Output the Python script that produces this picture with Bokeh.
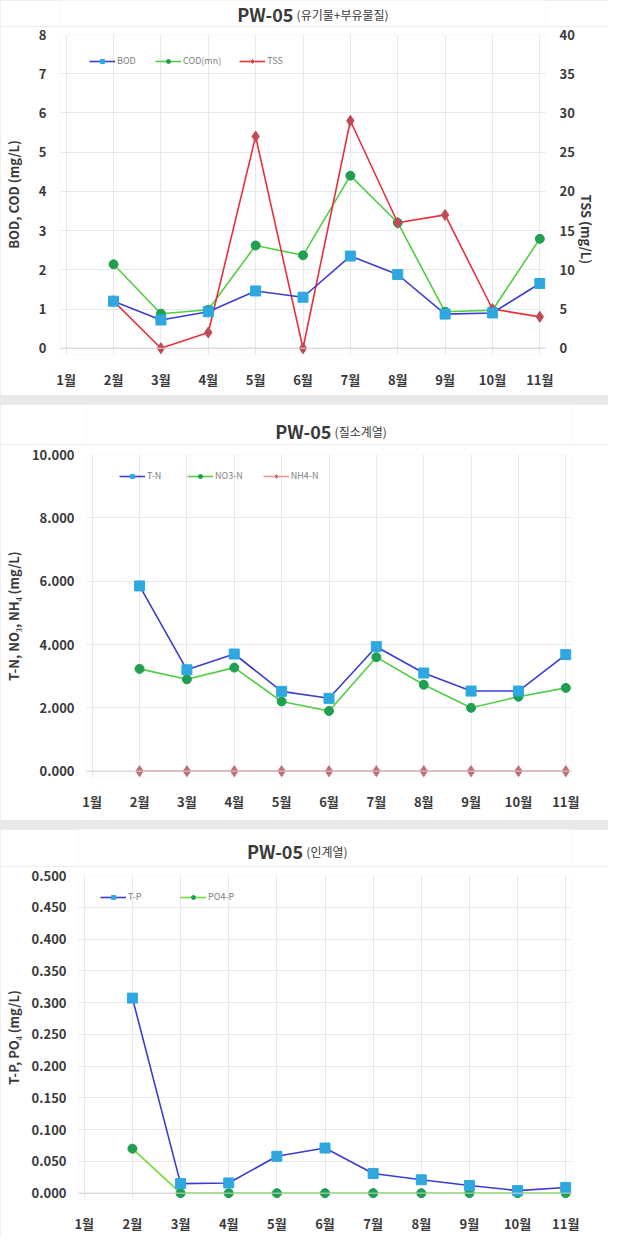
import math
from bokeh.plotting import figure
from bokeh.models import (Range1d, LinearAxis, FixedTicker, Legend, LegendItem,
                          Label, NumeralTickFormatter, Span)
from bokeh.layouts import column
from bokeh.embed import file_html
from bokeh.resources import INLINE

# ---------------- data ----------------
months = ["1월", "2월", "3월", "4월", "5월", "6월", "7월", "8월", "9월", "10월", "11월"]
data_months = ["2월", "3월", "4월", "5월", "6월", "7월", "8월", "9월", "10월", "11월"]

bod = [1.20, 0.72, 0.93, 1.46, 1.30, 2.35, 1.88, 0.87, 0.90, 1.65]
cod = [2.14, 0.88, 0.98, 2.62, 2.37, 4.40, 3.20, 0.93, 0.97, 2.79]
tss = [6, 0, 2, 27, 0, 29, 16, 17, 5, 4]

tn = [5.85, 3.20, 3.70, 2.52, 2.30, 3.93, 3.10, 2.53, 2.53, 3.68]
no3 = [3.23, 2.90, 3.27, 2.20, 1.90, 3.60, 2.73, 2.00, 2.35, 2.63]
nh4 = [0.0, 0.0, 0.0, 0.0, 0.0, 0.0, 0.0, 0.0, 0.0, 0.0]

tp = [0.307, 0.015, 0.016, 0.058, 0.071, 0.031, 0.021, 0.012, 0.004, 0.009]
po4 = [0.070, 0.0, 0.0, 0.0, 0.0, 0.0, 0.0, 0.0, 0.0, 0.0]

ticks1 = [0, 1, 2, 3, 4, 5, 6, 7, 8]
ticks1r = [0, 5, 10, 15, 20, 25, 30, 35, 40]
ticks2 = [0, 2, 4, 6, 8, 10]
ticks3 = [0, 0.05, 0.10, 0.15, 0.20, 0.25, 0.30, 0.35, 0.40, 0.45, 0.50]

titles_main = ["PW-05", "PW-05", "PW-05"]
titles_sub = ["(유기물+부유물질)", "(질소계열)", "(인계열)"]

month_idx = list(range(1, len(months) + 1))
xs = [months.index(m) + 1 for m in data_months]

FONT = "Noto Sans CJK KR"
TXT = "#3a3a3a"
BLUE_LINE = "#3c3cd2"
BLUE_MK = "#2ea8de"
GREEN_LINE = "#4fcf45"
GREEN_MK = "#1f9f4f"
RED_LINE = "#e8303a"
RED_MK = "#c04a55"
PINK_LINE = "#e89a9a"
PINK_MK = "#c07070"
LGREEN_LINE = "#72dd3a"
W = 608


def title_fig(height, split_x, mid_y, main, sub):
    t = figure(width=W, height=height, x_range=Range1d(0, W), y_range=Range1d(0, height),
               output_backend="svg", toolbar_location=None, min_border=0, title=None,
               x_axis_type=None, y_axis_type=None)
    t.grid.visible = False
    t.outline_line_color = None
    t.background_fill_color = "white"
    t.border_fill_color = "white"
    t.add_layout(Label(x=split_x - 2, y=mid_y, text=main, text_font=FONT,
                       text_font_style="bold", text_font_size="18px", text_color=TXT,
                       text_align="right", text_baseline="middle"))
    t.add_layout(Label(x=split_x + 2, y=mid_y - 1, text=sub, text_font=FONT,
                       text_font_size="12px", text_color=TXT,
                       text_align="left", text_baseline="middle"))
    return t


def style_axis(ax):
    ax.axis_line_color = None
    ax.major_tick_line_color = None
    ax.minor_tick_line_color = None
    ax.major_label_text_font = FONT
    ax.major_label_text_font_style = "bold"
    ax.major_label_text_font_size = "13px"
    ax.major_label_text_color = TXT
    ax.axis_label_text_font = FONT
    ax.axis_label_text_font_style = "bold"
    ax.axis_label_text_font_size = "13px"
    ax.axis_label_text_color = TXT


def base_fig(height, bl, br, bt, bb, yr):
    p = figure(width=W, height=height, x_range=Range1d(0.88, 11.12), y_range=yr,
               output_backend="svg", toolbar_location=None, title=None,
               min_border_left=bl, min_border_right=br, min_border_top=bt,
               min_border_bottom=bb)
    p.outline_line_color = None
    p.background_fill_color = "white"
    p.border_fill_color = "white"
    p.xaxis.ticker = FixedTicker(ticks=month_idx)
    p.xaxis.major_label_overrides = {i: m for i, m in zip(month_idx, months)}
    for ax in p.axis:
        style_axis(ax)
    p.xaxis.major_label_standoff = 9
    p.grid.grid_line_color = "#e8e8e8"
    p.grid.grid_line_width = 1
    p.add_layout(Span(location=0, dimension="width", line_color="#d4d4d4", line_width=1))
    return p


def series(p, y, line_color, mk_color, marker, size, label, items, y_range_name="default"):
    kw = {} if y_range_name == "default" else {"y_range_name": y_range_name}
    l = p.line(xs, y, line_color=line_color, line_width=1.6, **kw)
    s = p.scatter(xs, y, marker=marker, size=size, fill_color=mk_color,
                  line_color=mk_color, **kw)
    items.append(LegendItem(label=label, renderers=[l, s]))


def add_legend(p, items, loc, spacing):
    lg = Legend(items=items, orientation="horizontal", location=loc,
                label_text_font=FONT, label_text_font_size="9px",
                label_text_color="#808080", glyph_width=26, glyph_height=10,
                label_standoff=2, spacing=spacing, padding=0, margin=0,
                background_fill_alpha=0, border_line_color=None,
                label_height=10)
    p.add_layout(lg, "center")


# ---------------- panel 1 ----------------
t1 = title_fig(26, 294, 13, titles_main[0], titles_sub[0])
p1 = base_fig(369, 49, 57, 8, 41, Range1d(-0.16, 8))
p1.yaxis.ticker = FixedTicker(ticks=ticks1)
p1.yaxis.axis_label = "BOD, COD (mg/L)"
p1.yaxis.major_label_standoff = 8
p1.yaxis.axis_label_standoff = 13
p1.extra_y_ranges = {"tss": Range1d(-0.8, 40)}
rax = LinearAxis(y_range_name="tss", ticker=FixedTicker(ticks=ticks1r),
                 axis_label="TSS (mg/L)")
style_axis(rax)
rax.major_label_standoff = 8
rax.axis_label_standoff = 9
rax.axis_label_orientation = -math.pi / 2
p1.add_layout(rax, "right")

items1 = []
series(p1, cod, GREEN_LINE, GREEN_MK, "circle", 9, "COD(mn)", items1)
series(p1, tss, RED_LINE, RED_MK, "diamond", 11, "TSS", items1, "tss")
series(p1, bod, BLUE_LINE, BLUE_MK, "square", 10, "BOD", items1)
items1 = [items1[2], items1[0], items1[1]]
add_legend(p1, items1, (29, 287), 18)

# ---------------- panel 2 ----------------
t2 = title_fig(40, 309, 14, titles_main[1], titles_sub[1])
p2 = base_fig(376, 71, 37, 10, 43, Range1d(-0.2, 10))
p2.yaxis.ticker = FixedTicker(ticks=ticks2)
p2.yaxis.formatter = NumeralTickFormatter(format="0.000")
p2.yaxis.axis_label = "T-N, NO₃, NH₄ (mg/L)"
p2.yaxis.major_label_standoff = 6
p2.yaxis.axis_label_standoff = 6
p2.xaxis.major_label_standoff = 8

items2 = []
series(p2, nh4, PINK_LINE, PINK_MK, "diamond", 11, "NH4-N", items2)
series(p2, no3, GREEN_LINE, GREEN_MK, "circle", 9, "NO3-N", items2)
series(p2, tn, BLUE_LINE, BLUE_MK, "square", 10, "T-N", items2)
items2 = [items2[2], items2[1], items2[0]]
add_legend(p2, items2, (33, 295), 20)

# ---------------- panel 3 ----------------
t3 = title_fig(37, 279, 16, titles_main[2], titles_sub[2])
p3 = base_fig(369, 72, 37, 9, 36, Range1d(-0.01, 0.5))
p3.yaxis.ticker = FixedTicker(ticks=ticks3)
p3.yaxis.formatter = NumeralTickFormatter(format="0.000")
p3.yaxis.axis_label = "T-P, PO₄ (mg/L)"
p3.yaxis.major_label_standoff = 6
p3.yaxis.axis_label_standoff = 6
p3.xaxis.major_label_standoff = 8

items3 = []
series(p3, po4, LGREEN_LINE, GREEN_MK, "circle", 9, "PO4-P", items3)
series(p3, tp, BLUE_LINE, BLUE_MK, "square", 10, "T-P", items3)
items3 = [items3[1], items3[0]]
add_legend(p3, items3, (22, 296), 32)

layout = column(column(t1, p1), column(t2, p2), column(t3, p3), spacing=9,
                styles={"background-color": "#e9e9e9"})
open("out.html", "w").write(file_html(layout, INLINE))
